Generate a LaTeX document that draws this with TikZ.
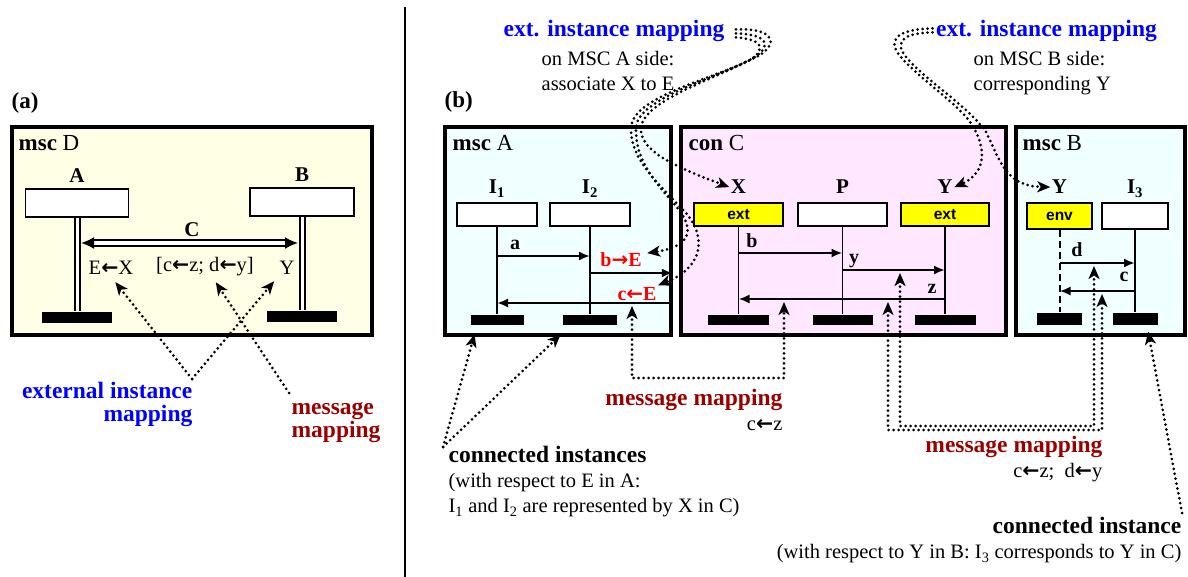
\documentclass[tikz,border=0pt]{standalone}
\usepackage{fontspec}
\setmainfont{Liberation Serif}
\newfontfamily\extfont{Liberation Sans}
\newfontfamily\arrfont{DejaVu Sans}
\usetikzlibrary{arrows.meta}

\definecolor{cream}{HTML}{FFFFE6}
\definecolor{mscbg}{HTML}{F0FFFF}
\definecolor{conbg}{HTML}{FFE8FF}
\definecolor{mapred}{HTML}{990000}
\definecolor{extyel}{HTML}{FFFF00}

\newcommand{\ttl}{\fontsize{23}{26}\selectfont}
\newcommand{\lab}{\fontsize{21}{24}\selectfont\bfseries}
\newcommand{\mlab}{\fontsize{20}{22}\selectfont\bfseries}
\newcommand{\anno}{\fontsize{20.5}{25}\selectfont}
\newcommand{\annob}{\fontsize{23.5}{22.5}\selectfont\bfseries}
\newcommand{\extf}{\extfont\bfseries\fontsize{15.5}{15.5}\selectfont}
\newcommand{\leftarr}{{\arrfont\bfseries ←}}
\newcommand{\rightarr}{{\arrfont\bfseries →}}

\begin{document}
\begin{tikzpicture}[x=1pt,y=-1pt,line width=1.3pt,
  every node/.style={inner sep=1pt,font=\anno},
  mscframe/.style={draw,line width=3.8pt,anchor=north west,minimum height=208pt},
  inst/.style={draw,fill=white,line width=1.4pt,minimum height=23pt},
  endbar/.style={fill=black,inner sep=0pt,minimum height=10pt},
  dline/.style={double,double distance=3pt,line width=2pt},
  msg/.style={-{Latex[length=11pt,width=9pt]},line width=2.6pt},
  map/.style={line width=3pt,dash pattern=on 0pt off 5pt,line cap=round},
  maptip/.style={-{Stealth[length=13pt,width=11pt,inset=3.5pt]}},
  mapboth/.style={{Stealth[length=13pt,width=11pt,inset=3.5pt]}-{Stealth[length=13pt,width=11pt,inset=3.5pt]}}]
  \useasboundingbox (0,0) rectangle (1188,577);

  % --- (a) msc D ---
  \node[anchor=base west,font=\ttl\bfseries] (tagA) at (10,109) {(a)};
  \node[mscframe,fill=cream,minimum width=360pt] (boxD) at (10,125) {};
  \node[anchor=base west,font=\ttl] (nameD) at (17,151) {\textbf{msc} D};
  \node[inst,minimum width=103pt,minimum height=28pt] (iA) at (77,203) {};
  \node[inst,minimum width=104pt,minimum height=28pt] (iB) at (302,202) {};
  \node[anchor=base,font=\lab] (lA) at (77,183) {A};
  \node[anchor=base,font=\lab] (lB) at (302,182) {B};
  \node[endbar,minimum width=70pt,minimum height=11pt] (eA) at (77,317) {};
  \node[endbar,minimum width=70pt,minimum height=11pt] (eB) at (302,316.5) {};
  \draw[dline] (iA) -- (eA);
  \draw[dline] (iB) -- (eB);
  \coordinate (cl) at (81,243);
  \coordinate (cr) at (298,243);
  \draw[dline,double distance=3.5pt,{Latex[length=13pt,width=12pt]}-{Latex[length=13pt,width=12pt]}] (cl) -- (cr);
  \node[anchor=base,font=\lab] (lC) at (192,236.5) {C};
  \node[anchor=base] (eX) at (111,275) {E\leftarr X};
  \node[anchor=base] (cz) at (205,272) {[c\leftarr z; d\leftarr y]};
  \node[anchor=base] (yB) at (287,275) {Y};
  % mappings (a)
  \node[anchor=north east,align=right,font=\annob,text=blue] (eimA) at (194,381) {external instance\\mapping};
  \node[anchor=north west,align=left,font=\annob,text=mapred] (mmA) at (290,401) {message\\mapping};
  \coordinate (apx) at (192,379);
  \coordinate (mma) at (289,393);
  \draw[map,maptip,shorten >=7pt] (apx) -- (eX.south);
  \draw[map,maptip,shorten >=6pt] (apx) -- (yB.south west);
  \draw[map,maptip,shorten >=5pt] (mma) -- ([xshift=8pt]cz.south);

  % separator
  \draw[line width=2pt] (405,7) -- (405,577);

  % --- (b) ---
  \node[anchor=base west,font=\ttl\bfseries] (tagB) at (443,108) {(b)};
  \node[mscframe,fill=mscbg,minimum width=226pt] (boxA) at (443,125) {};
  \node[mscframe,fill=conbg,minimum width=325pt] (boxC) at (679,125) {};
  \node[mscframe,fill=mscbg,minimum width=169pt] (boxB) at (1014,125) {};

  % --- msc A ---
  \node[anchor=base west,font=\ttl] (nameA) at (451,151) {\textbf{msc} A};
  \node[inst,minimum width=80pt] (i1) at (497,214.5) {};
  \node[inst,minimum width=80pt] (i2) at (590,214.5) {};
  \node[anchor=base,font=\lab] (l1) at (497,194) {I\textsubscript{1}};
  \node[anchor=base,font=\lab] (l2) at (590,194) {I\textsubscript{2}};
  \node[endbar,minimum width=53pt] (b1) at (497,320) {};
  \node[endbar,minimum width=54pt] (b2) at (590,320) {};
  \draw (i1) -- (b1);
  \draw (i2) -- (b2);
  \draw[msg] (i1 |- 0,256) -- (i2 |- 0,256);
  \draw[msg] (i2 |- 0,273) -- (boxA.east |- 0,273);
  \draw[msg] (boxA.east |- 0,303) -- (i1 |- 0,303);
  \node[anchor=base,font=\mlab] (ma) at (515,250) {a};
  \node[anchor=base,font=\mlab,text=red] (bE) at (621,267) {b\rightarr E};
  \node[anchor=base,font=\mlab,text=red] (cE) at (637,300) {c\leftarr E};

  % --- con C ---
  \node[anchor=base west,font=\ttl] (nameC) at (687,151) {\textbf{con} C};
  \node[inst,fill=extyel,minimum width=89pt,font=\extf] (xC) at (738.5,214.5) {ext};
  \node[inst,minimum width=89pt] (pC) at (842.5,214.5) {};
  \node[inst,fill=extyel,minimum width=88pt,font=\extf] (yC) at (945,214.5) {ext};
  \node[anchor=base,font=\lab] (lX) at (738.5,194) {X};
  \node[anchor=base,font=\lab] (lP) at (842.5,194) {P};
  \node[anchor=base,font=\lab] (lYC) at (945,194) {Y};
  \node[endbar,minimum width=61pt] (bx) at (738.5,320) {};
  \node[endbar,minimum width=60pt] (bp) at (842.5,320) {};
  \node[endbar,minimum width=61pt] (by) at (945,320) {};
  \draw (xC) -- (bx);
  \draw (pC) -- (bp);
  \draw (yC) -- (by);
  \draw[msg] (xC |- 0,253) -- (pC |- 0,253);
  \draw[msg] (pC |- 0,270) -- (yC |- 0,270);
  \draw[msg] (yC |- 0,299) -- (xC |- 0,299);
  \node[anchor=base,font=\mlab] (mb) at (752,248) {b};
  \node[anchor=base,font=\mlab] (my) at (854,264) {y};
  \node[anchor=base,font=\mlab] (mz) at (932,294) {z};

  % --- msc B ---
  \node[anchor=base west,font=\ttl] (nameB) at (1021,151) {\textbf{msc} B};
  \node[inst,fill=extyel,minimum width=65pt,minimum height=26pt,font=\extf] (env) at (1059.5,216) {env};
  \node[inst,minimum width=66pt,minimum height=26pt] (i3) at (1135,216) {};
  \node[anchor=base,font=\lab] (lYB) at (1059.5,194) {Y};
  \node[anchor=base,font=\lab] (l3) at (1135,194) {I\textsubscript{3}};
  \node[endbar,minimum width=45pt,minimum height=12pt] (be) at (1059.5,319) {};
  \node[endbar,minimum width=45pt,minimum height=12pt] (b3) at (1135,319) {};
  \draw[line width=2pt,dash pattern=on 7pt off 4pt] (env) -- (be);
  \draw (i3) -- (b3);
  \draw[msg] (env |- 0,263) -- (i3 |- 0,263);
  \draw[msg] (i3 |- 0,291) -- (env |- 0,291);
  \node[anchor=base,font=\mlab] (md) at (1077,257) {d};
  \node[anchor=base,font=\mlab] (mc) at (1124,282) {c};

  % ext. instance mapping, MSC A side
  \node[anchor=base,font=\annob,text=blue] (extA) at (614,37) {ext. instance mapping};
  \node[anchor=north west,align=left] (extAsub) at (540,49.5) {on MSC A side:\\associate X to E};
  \draw[map,maptip] ([xshift=10pt,yshift=2pt]extA.east) .. controls (768,28) and (782,40) .. (760,55)
    .. controls (720,78) and (632,95) .. (631,128) .. controls (630,160) and (660,185) .. (685,212)
    .. controls (708,238) and (702,268) .. (cE.north east);
  \draw[map,maptip] ([xshift=10pt,yshift=-2pt]extA.east) .. controls (763,34) and (775,43) .. (755,57)
    .. controls (716,79) and (637,98) .. (636,128) .. controls (635,160) and (655,182) .. (675,205)
    .. controls (695,228) and (693,246) .. ([xshift=4pt,yshift=7pt]bE.east);
  \draw[map,maptip] ([xshift=10pt,yshift=-6pt]extA.east) .. controls (759,39) and (769,47) .. (750,60)
    .. controls (712,80) and (643,101) .. (641,128) .. controls (640,150) and (670,165) .. (lX.west);

  % ext. instance mapping, MSC B side
  \node[anchor=base,font=\annob,text=blue] (extB) at (1046.5,37) {ext. instance mapping};
  \node[anchor=north west,align=left] (extBsub) at (972,49.5) {on MSC B side:\\corresponding Y};
  \draw[map,maptip] ([xshift=-2pt,yshift=3pt]extB.west) .. controls (905,29) and (884,36) .. (900,56)
    .. controls (920,80) and (965,108) .. (975,130) .. controls (988,155) and (982,175) .. (lYC.east);
  \draw[map,maptip] ([xshift=-2pt,yshift=-1pt]extB.west) .. controls (908,33) and (892,39) .. (906,57)
    .. controls (925,80) and (968,106) .. (986,132) .. controls (1000,160) and (1005,186) .. (lYB.west);

  % message mapping c<-z (A and C)
  \coordinate (cAm) at (632,306);
  \coordinate (zCm) at (784,302);
  \draw[map,mapboth] (cAm) -- (cAm |- 0,378) -- (zCm |- 0,378) -- (zCm);
  \node[anchor=north east,align=right] (mmC) at (784,388) {{\annob\color{mapred}message mapping}\\c\leftarr z};

  % message mapping (C and B)
  \coordinate (zCm2) at (888,302);
  \coordinate (cBm) at (1102,294);
  \coordinate (yCm) at (900,273);
  \coordinate (dBm) at (1094,266);
  \draw[map,mapboth] (zCm2) -- (zCm2 |- 0,430) -- (cBm |- 0,430) -- (cBm);
  \draw[map,mapboth] (yCm) -- (yCm |- 0,426) -- (dBm |- 0,426) -- (dBm);
  \node[anchor=north east,align=right] (mmB) at (1104,435) {{\annob\color{mapred}message mapping}\\c\leftarr z;\ \ d\leftarr y};

  % connected instances
  \coordinate (ciA) at (443,447);
  \draw[map,maptip,shorten >=9pt] (ciA) -- ([xshift=-20pt]b1.south);
  \draw[map,maptip,shorten >=13pt] (ciA) -- ([xshift=-20pt]b2.south);
  \node[anchor=north west,align=left] (ciAtxt) at (447,445) {{\annob connected instances}\\(with respect to E in A:\\I\textsubscript{1} and I\textsubscript{2} are represented by X in C)};
  \coordinate (ciB) at (1182,513);
  \draw[map,maptip,shorten >=6pt] (ciB) -- ([xshift=12pt]b3.south);
  \node[anchor=north east,align=right] (ciBtxt) at (1183,516) {{\annob connected instance}\\(with respect to Y in B: I\textsubscript{3} corresponds to Y in C)};
\end{tikzpicture}
\end{document}
